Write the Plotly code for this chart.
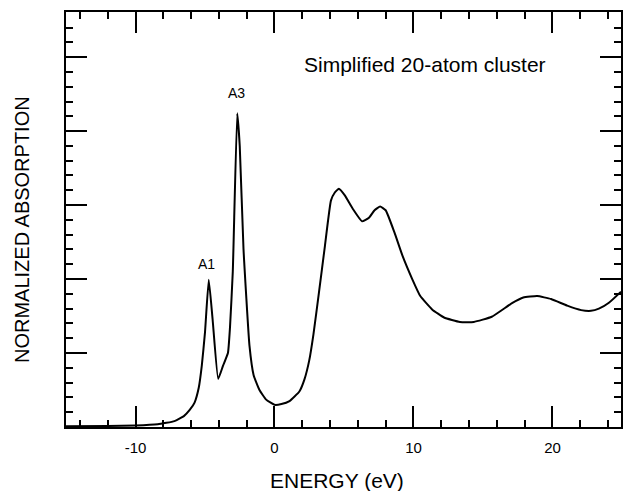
import plotly.graph_objects as go

energy = [-15.0, -12.0, -10.0, -8.4, -7.2, -6.5, -6.1, -5.75, -5.45, -5.23, -5.0, -4.73,
          -4.45, -4.05, -3.7, -3.35, -3.2, -3.0, -2.68, -2.5, -2.23, -1.8, -1.5, -1.08,
          -0.6, 0.0, 0.5, 1.08, 1.79, 2.15, 2.5, 2.8, 3.2, 3.63, 4.06, 4.34, 4.63, 5.06, 5.63,
          6.3, 6.8, 7.2, 7.6, 8.0, 8.63, 9.2, 9.91, 10.49, 11.34, 12.2, 13.34, 14.34,
          15.63, 17.06, 17.9, 18.9, 19.9, 21.06, 22.06, 22.77, 23.34, 24.06, 24.93]
absorption = [0.01, 0.015, 0.02, 0.036, 0.08, 0.15, 0.23, 0.33, 0.53, 0.83, 1.28, 1.99,
              1.45, 0.65, 0.83, 1.0, 1.35, 2.1, 4.24, 3.8, 2.41, 1.1, 0.70, 0.50,
              0.37, 0.30, 0.31, 0.35, 0.48, 0.64, 0.9, 1.25, 1.82, 2.45, 3.06, 3.17, 3.22, 3.13, 2.95,
              2.78, 2.83, 2.93, 2.98, 2.93, 2.63, 2.32, 2.0, 1.77, 1.59, 1.48, 1.42, 1.42,
              1.49, 1.67, 1.75, 1.77, 1.73, 1.64, 1.58, 1.57, 1.60, 1.68, 1.83]

peak_labels = ["A1", "A3"]
peak_x = [-4.87, -2.72]
peak_y = [2.2, 4.52]

x_ticks = [-10, 0, 10, 20]
x_ticktext = ["-10", "0", "10", "20"]

FONT = "Liberation Sans, Arial, Helvetica, sans-serif"

fig = go.Figure()
fig.add_trace(go.Scatter(x=energy, y=absorption, mode="lines",
                         line=dict(color="black", width=2, shape="spline", smoothing=0.4),
                         showlegend=False, hoverinfo="skip"))

for t, xx, yy in zip(peak_labels, peak_x, peak_y):
    fig.add_annotation(x=xx, y=yy, text=t, showarrow=False,
                       font=dict(family=FONT, size=14, color="black"))

fig.add_annotation(x=10.86, y=4.90, text="Simplified 20-atom cluster", showarrow=False,
                   font=dict(family=FONT, size=21, color="black"))

# axis titles
fig.add_annotation(xref="paper", yref="paper", x=0.488, y=-0.130, xanchor="center",
                   yanchor="middle", text="ENERGY (eV)", showarrow=False,
                   font=dict(family=FONT, size=21, color="black"))
fig.add_annotation(xref="paper", yref="paper", x=-0.079, y=0.475, xanchor="center",
                   yanchor="middle", text="NORMALIZED ABSORPTION", textangle=-90,
                   showarrow=False, font=dict(family=FONT, size=20, color="black"))

axis_common = dict(showline=True, linecolor="black", linewidth=2, mirror="ticks",
                   ticks="inside", ticklen=21, tickwidth=1.8, tickcolor="black",
                   showgrid=False, zeroline=False)

fig.update_xaxes(range=[-15, 24.93], tickvals=x_ticks, ticktext=x_ticktext,
                 minor=dict(dtick=2, tick0=0, ticks="inside", ticklen=7, tickwidth=1.8,
                            tickcolor="black", showgrid=False),
                 tickfont=dict(family=FONT, size=15, color="black"),
                 ticklabelstandoff=6,
                 **axis_common)
fig.update_yaxes(range=[0, 5.61], tick0=0, dtick=1, showticklabels=False,
                 minor=dict(dtick=0.2, tick0=0, ticks="inside", ticklen=7, tickwidth=1.8,
                            tickcolor="black", showgrid=False),
                 **axis_common)

fig.update_layout(width=623, height=491, margin=dict(l=66, r=0, t=12, b=64),
                  plot_bgcolor="white", paper_bgcolor="white")

fig.write_html("out.html")
